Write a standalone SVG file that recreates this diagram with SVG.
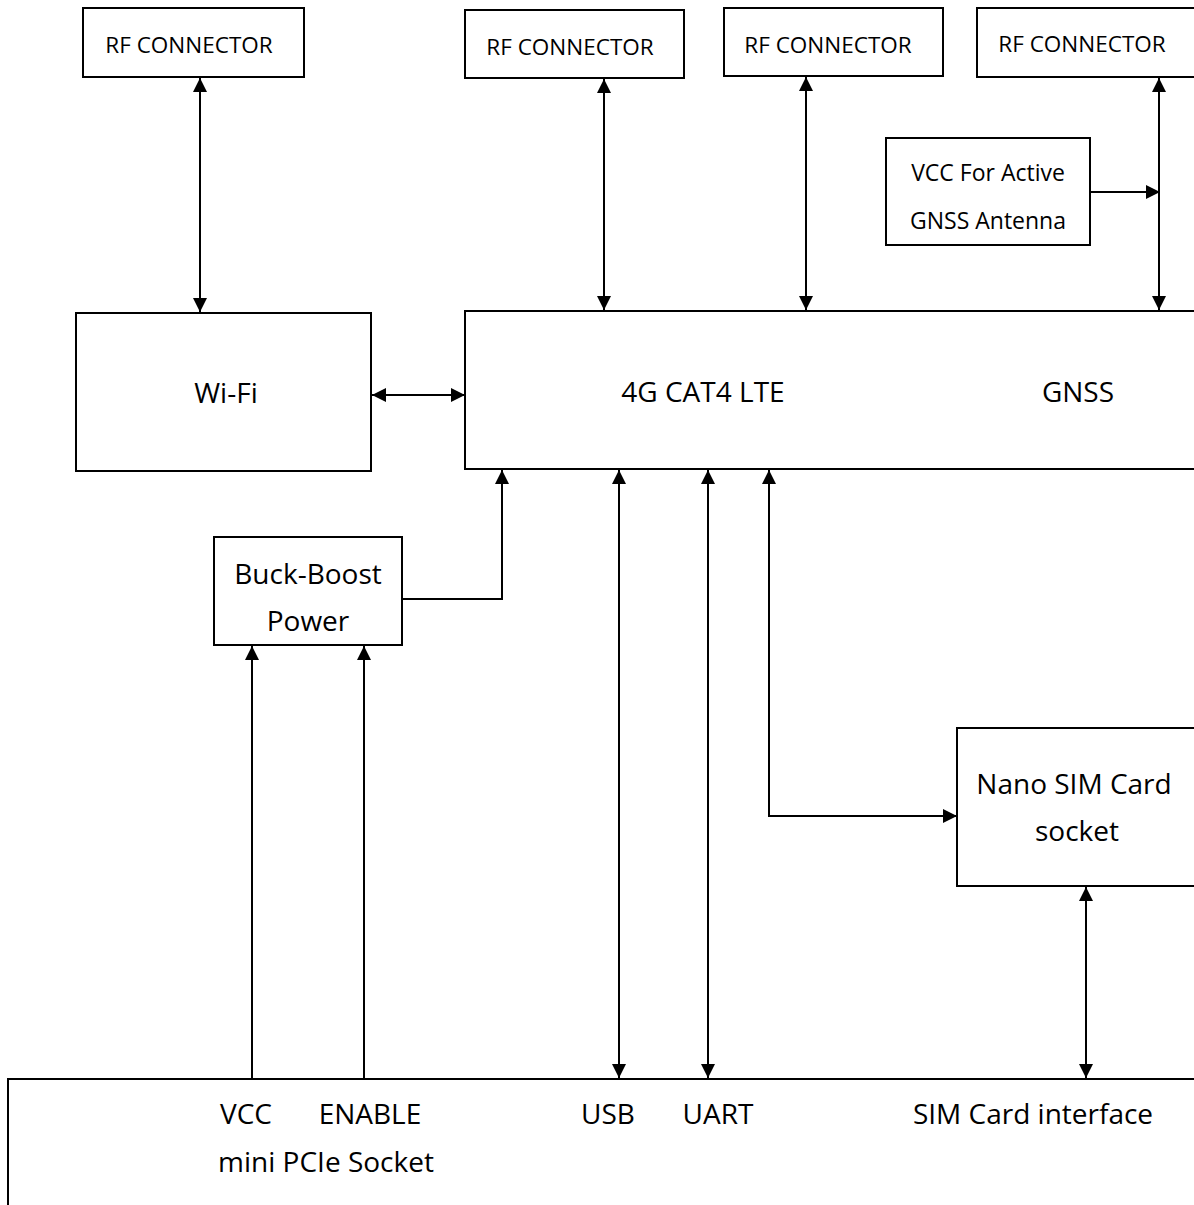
<svg xmlns="http://www.w3.org/2000/svg" width="1194" height="1205" viewBox="0 0 1194 1205">
<style>
.box{fill:#fff;stroke:#000;stroke-width:2}
.t{font-family:"Open Sans","Noto Sans",sans-serif;fill:#000;text-anchor:middle}
.s{font-size:22.5px}
.m{font-size:23px}
.l{font-size:28px}
.c{fill:none;stroke:#000;stroke-width:2}
</style>
<defs>
<marker id="ah" markerWidth="14" markerHeight="14" refX="14" refY="7" orient="auto-start-reverse" markerUnits="userSpaceOnUse" viewBox="0 0 14 14">
<path d="M0,0 L14,7 L0,14 Z" fill="#000"/>
</marker>
</defs>
<rect width="1194" height="1205" fill="#fff"/>
<g id="rf1"><rect class="box" x="83" y="8" width="221" height="69"/><text class="t s" x="189" y="53">RF CONNECTOR</text></g>
<g id="rf2"><rect class="box" x="465" y="10" width="219" height="68"/><text class="t s" x="570" y="55">RF CONNECTOR</text></g>
<g id="rf3"><rect class="box" x="724" y="8" width="219" height="68"/><text class="t s" x="828" y="53">RF CONNECTOR</text></g>
<g id="rf4"><rect class="box" x="977" y="8" width="240" height="69"/><text class="t s" x="1082" y="52">RF CONNECTOR</text></g>
<g id="vcc-gnss"><rect class="box" x="886" y="138" width="204" height="107"/><text class="t m" x="988" y="181">VCC For Active</text><text class="t m" x="988" y="229">GNSS Antenna</text></g>
<g id="wifi"><rect class="box" x="76" y="313" width="295" height="158"/><text class="t l" x="226" y="403">Wi-Fi</text></g>
<g id="lte"><rect class="box" x="465" y="311" width="760" height="158"/><text class="t l" x="703" y="402">4G CAT4 LTE</text><text class="t l" x="1078" y="402">GNSS</text></g>
<g id="buck"><rect class="box" x="214" y="537" width="188" height="108"/><text class="t l" x="308" y="584">Buck-Boost</text><text class="t l" x="308" y="631">Power</text></g>
<g id="sim"><rect class="box" x="957" y="728" width="260" height="158"/><text class="t l" x="1074" y="794">Nano SIM Card</text><text class="t l" x="1077" y="841">socket</text></g>
<g id="pcie"><rect class="box" x="8" y="1079" width="1220" height="140"/>
<text class="t l" x="246" y="1124">VCC</text><text class="t l" x="370" y="1124">ENABLE</text><text class="t l" x="608" y="1124">USB</text><text class="t l" x="718" y="1124">UART</text><text class="t l" x="1033" y="1124">SIM Card interface</text><text class="t l" x="326" y="1172">mini PCIe Socket</text></g>
<g id="connectors">
<line class="c" x1="200" y1="78" x2="200" y2="312" marker-start="url(#ah)" marker-end="url(#ah)"/>
<line class="c" x1="604" y1="79" x2="604" y2="310" marker-start="url(#ah)" marker-end="url(#ah)"/>
<line class="c" x1="806" y1="77" x2="806" y2="310" marker-start="url(#ah)" marker-end="url(#ah)"/>
<line class="c" x1="1159" y1="78" x2="1159" y2="310" marker-start="url(#ah)" marker-end="url(#ah)"/>
<line class="c" x1="1090" y1="192" x2="1160" y2="192" marker-end="url(#ah)"/>
<line class="c" x1="372" y1="395" x2="465" y2="395" marker-start="url(#ah)" marker-end="url(#ah)"/>
<polyline class="c" points="402,599 502,599 502,470" marker-end="url(#ah)"/>
<line class="c" x1="252" y1="1078" x2="252" y2="646" marker-end="url(#ah)"/>
<line class="c" x1="364" y1="1080" x2="364" y2="646" marker-end="url(#ah)"/>
<line class="c" x1="619" y1="470" x2="619" y2="1078" marker-start="url(#ah)" marker-end="url(#ah)"/>
<line class="c" x1="708" y1="470" x2="708" y2="1078" marker-start="url(#ah)" marker-end="url(#ah)"/>
<polyline class="c" points="769,470 769,816 957,816" marker-start="url(#ah)" marker-end="url(#ah)"/>
<line class="c" x1="1086" y1="887" x2="1086" y2="1078" marker-start="url(#ah)" marker-end="url(#ah)"/>
</g>
</svg>
